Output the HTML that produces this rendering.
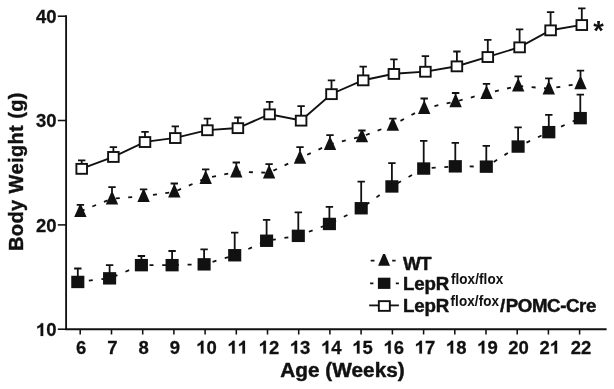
<!DOCTYPE html><html><head><meta charset="utf-8"><title>chart</title>
<style>html,body{margin:0;padding:0;background:#fff;}svg{display:block;will-change:transform;}text{font-family:"Liberation Sans",sans-serif;font-weight:bold;fill:#111;}</style>
</head><body>
<svg width="614" height="389" viewBox="0 0 614 389">
<rect width="614" height="389" fill="#fff"/>
<g stroke="#111" stroke-width="1.85" fill="none" stroke-linecap="butt">
<path d="M66.1 15.3 V330.1"/>
<path d="M65.2 329.2 H606.6"/>
<path d="M57.8 329.2 H66.1" stroke-width="1.55"/>
<path d="M57.8 224.9 H66.1" stroke-width="1.55"/>
<path d="M57.8 120.5 H66.1" stroke-width="1.55"/>
<path d="M57.8 16.2 H66.1" stroke-width="1.55"/>
<path d="M80.2 329.2 V334.5" stroke-width="1.55"/>
<path d="M111.5 329.2 V334.5" stroke-width="1.55"/>
<path d="M142.7 329.2 V334.5" stroke-width="1.55"/>
<path d="M173.9 329.2 V334.5" stroke-width="1.55"/>
<path d="M205.1 329.2 V334.5" stroke-width="1.55"/>
<path d="M236.3 329.2 V334.5" stroke-width="1.55"/>
<path d="M267.5 329.2 V334.5" stroke-width="1.55"/>
<path d="M298.7 329.2 V334.5" stroke-width="1.55"/>
<path d="M329.9 329.2 V334.5" stroke-width="1.55"/>
<path d="M361.1 329.2 V334.5" stroke-width="1.55"/>
<path d="M392.4 329.2 V334.5" stroke-width="1.55"/>
<path d="M423.6 329.2 V334.5" stroke-width="1.55"/>
<path d="M454.8 329.2 V334.5" stroke-width="1.55"/>
<path d="M486.0 329.2 V334.5" stroke-width="1.55"/>
<path d="M517.2 329.2 V334.5" stroke-width="1.55"/>
<path d="M548.4 329.2 V334.5" stroke-width="1.55"/>
<path d="M579.6 329.2 V334.5" stroke-width="1.55"/>
</g>
<g transform="translate(35.91 335.9) scale(1.04 1)"><path transform="translate(0.00 0) scale(0.01780)" d="M393 0H254V-517Q178 -446 75 -412V-536Q129 -554 193 -603Q257 -652 281 -716H393Z" fill="#111" stroke="#111" stroke-width="12"/><text x="9.90" y="0" font-size="17.8" stroke="#111" stroke-width="0.25">0</text></g>
<g transform="translate(35.91 231.6) scale(1.04 1)"><text x="0.00" y="0" font-size="17.8" stroke="#111" stroke-width="0.25">2</text><text x="9.90" y="0" font-size="17.8" stroke="#111" stroke-width="0.25">0</text></g>
<g transform="translate(35.91 127.2) scale(1.04 1)"><text x="0.00" y="0" font-size="17.8" stroke="#111" stroke-width="0.25">3</text><text x="9.90" y="0" font-size="17.8" stroke="#111" stroke-width="0.25">0</text></g>
<g transform="translate(35.91 22.9) scale(1.04 1)"><text x="0.00" y="0" font-size="17.8" stroke="#111" stroke-width="0.25">4</text><text x="9.90" y="0" font-size="17.8" stroke="#111" stroke-width="0.25">0</text></g>
<g transform="translate(76.10 353.6) scale(1.04 1)"><text x="0.00" y="0" font-size="17.8" stroke="#111" stroke-width="0.25">6</text></g>
<g transform="translate(107.31 353.6) scale(1.04 1)"><text x="0.00" y="0" font-size="17.8" stroke="#111" stroke-width="0.25">7</text></g>
<g transform="translate(138.52 353.6) scale(1.04 1)"><text x="0.00" y="0" font-size="17.8" stroke="#111" stroke-width="0.25">8</text></g>
<g transform="translate(169.73 353.6) scale(1.04 1)"><text x="0.00" y="0" font-size="17.8" stroke="#111" stroke-width="0.25">9</text></g>
<g transform="translate(196.20 353.6) scale(1.04 1)"><path transform="translate(0.00 0) scale(0.01780)" d="M393 0H254V-517Q178 -446 75 -412V-536Q129 -554 193 -603Q257 -652 281 -716H393Z" fill="#111" stroke="#111" stroke-width="12"/><text x="9.90" y="0" font-size="17.8" stroke="#111" stroke-width="0.25">0</text></g>
<g transform="translate(227.41 353.6) scale(1.04 1)"><path transform="translate(0.00 0) scale(0.01780)" d="M393 0H254V-517Q178 -446 75 -412V-536Q129 -554 193 -603Q257 -652 281 -716H393Z" fill="#111" stroke="#111" stroke-width="12"/><path transform="translate(9.90 0) scale(0.01780)" d="M393 0H254V-517Q178 -446 75 -412V-536Q129 -554 193 -603Q257 -652 281 -716H393Z" fill="#111" stroke="#111" stroke-width="12"/></g>
<g transform="translate(258.62 353.6) scale(1.04 1)"><path transform="translate(0.00 0) scale(0.01780)" d="M393 0H254V-517Q178 -446 75 -412V-536Q129 -554 193 -603Q257 -652 281 -716H393Z" fill="#111" stroke="#111" stroke-width="12"/><text x="9.90" y="0" font-size="17.8" stroke="#111" stroke-width="0.25">2</text></g>
<g transform="translate(289.83 353.6) scale(1.04 1)"><path transform="translate(0.00 0) scale(0.01780)" d="M393 0H254V-517Q178 -446 75 -412V-536Q129 -554 193 -603Q257 -652 281 -716H393Z" fill="#111" stroke="#111" stroke-width="12"/><text x="9.90" y="0" font-size="17.8" stroke="#111" stroke-width="0.25">3</text></g>
<g transform="translate(321.04 353.6) scale(1.04 1)"><path transform="translate(0.00 0) scale(0.01780)" d="M393 0H254V-517Q178 -446 75 -412V-536Q129 -554 193 -603Q257 -652 281 -716H393Z" fill="#111" stroke="#111" stroke-width="12"/><text x="9.90" y="0" font-size="17.8" stroke="#111" stroke-width="0.25">4</text></g>
<g transform="translate(352.25 353.6) scale(1.04 1)"><path transform="translate(0.00 0) scale(0.01780)" d="M393 0H254V-517Q178 -446 75 -412V-536Q129 -554 193 -603Q257 -652 281 -716H393Z" fill="#111" stroke="#111" stroke-width="12"/><text x="9.90" y="0" font-size="17.8" stroke="#111" stroke-width="0.25">5</text></g>
<g transform="translate(383.46 353.6) scale(1.04 1)"><path transform="translate(0.00 0) scale(0.01780)" d="M393 0H254V-517Q178 -446 75 -412V-536Q129 -554 193 -603Q257 -652 281 -716H393Z" fill="#111" stroke="#111" stroke-width="12"/><text x="9.90" y="0" font-size="17.8" stroke="#111" stroke-width="0.25">6</text></g>
<g transform="translate(414.67 353.6) scale(1.04 1)"><path transform="translate(0.00 0) scale(0.01780)" d="M393 0H254V-517Q178 -446 75 -412V-536Q129 -554 193 -603Q257 -652 281 -716H393Z" fill="#111" stroke="#111" stroke-width="12"/><text x="9.90" y="0" font-size="17.8" stroke="#111" stroke-width="0.25">7</text></g>
<g transform="translate(445.88 353.6) scale(1.04 1)"><path transform="translate(0.00 0) scale(0.01780)" d="M393 0H254V-517Q178 -446 75 -412V-536Q129 -554 193 -603Q257 -652 281 -716H393Z" fill="#111" stroke="#111" stroke-width="12"/><text x="9.90" y="0" font-size="17.8" stroke="#111" stroke-width="0.25">8</text></g>
<g transform="translate(477.09 353.6) scale(1.04 1)"><path transform="translate(0.00 0) scale(0.01780)" d="M393 0H254V-517Q178 -446 75 -412V-536Q129 -554 193 -603Q257 -652 281 -716H393Z" fill="#111" stroke="#111" stroke-width="12"/><text x="9.90" y="0" font-size="17.8" stroke="#111" stroke-width="0.25">9</text></g>
<g transform="translate(508.30 353.6) scale(1.04 1)"><text x="0.00" y="0" font-size="17.8" stroke="#111" stroke-width="0.25">2</text><text x="9.90" y="0" font-size="17.8" stroke="#111" stroke-width="0.25">0</text></g>
<g transform="translate(539.51 353.6) scale(1.04 1)"><text x="0.00" y="0" font-size="17.8" stroke="#111" stroke-width="0.25">2</text><path transform="translate(9.90 0) scale(0.01780)" d="M393 0H254V-517Q178 -446 75 -412V-536Q129 -554 193 -603Q257 -652 281 -716H393Z" fill="#111" stroke="#111" stroke-width="12"/></g>
<g transform="translate(570.72 353.6) scale(1.04 1)"><text x="0.00" y="0" font-size="17.8" stroke="#111" stroke-width="0.25">2</text><text x="9.90" y="0" font-size="17.8" stroke="#111" stroke-width="0.25">2</text></g>
<g transform="translate(280.2 376.7) scale(1.06 1)"><text font-size="19.6" textLength="117.55" lengthAdjust="spacing" stroke="#111" stroke-width="0.45">Age (Weeks)</text></g>
<g transform="translate(23.0 251.0) rotate(-90)"><text font-size="20" textLength="158.5" lengthAdjust="spacing" stroke="#111" stroke-width="0.4">Body Weight (g)</text></g>
<polyline points="77.8,281.9 109.6,278.3 141.4,265.1 172.1,265.1 204.1,264.3 234.7,255.2 266.6,240.7 298.3,235.8 329.4,223.9 361.2,208.2 391.9,186.4 423.7,168.5 455.3,166.3 486.3,166.6 518.1,146.5 548.8,132.1 580.3,118.1" fill="none" stroke="#111" stroke-width="1.8" stroke-dasharray="4 8.69" stroke-dashoffset="1.6"/>
<path d="M77.8 281.9 V268.5 M74.1 268.5 H81.5" stroke="#111" stroke-width="1.8" fill="none"/>
<path d="M109.6 278.3 V265.1 M105.9 265.1 H113.3" stroke="#111" stroke-width="1.8" fill="none"/>
<path d="M141.4 265.1 V256.0 M137.7 256.0 H145.1" stroke="#111" stroke-width="1.8" fill="none"/>
<path d="M172.1 265.1 V251.0 M168.4 251.0 H175.8" stroke="#111" stroke-width="1.8" fill="none"/>
<path d="M204.1 264.3 V249.4 M200.4 249.4 H207.8" stroke="#111" stroke-width="1.8" fill="none"/>
<path d="M234.7 255.2 V232.7 M231.0 232.7 H238.4" stroke="#111" stroke-width="1.8" fill="none"/>
<path d="M266.6 240.7 V219.8 M262.9 219.8 H270.3" stroke="#111" stroke-width="1.8" fill="none"/>
<path d="M298.3 235.8 V212.4 M294.6 212.4 H302.0" stroke="#111" stroke-width="1.8" fill="none"/>
<path d="M329.4 223.9 V206.8 M325.7 206.8 H333.1" stroke="#111" stroke-width="1.8" fill="none"/>
<path d="M361.2 208.2 V181.6 M357.5 181.6 H364.9" stroke="#111" stroke-width="1.8" fill="none"/>
<path d="M391.9 186.4 V163.1 M388.2 163.1 H395.6" stroke="#111" stroke-width="1.8" fill="none"/>
<path d="M423.7 168.5 V140.8 M420.0 140.8 H427.4" stroke="#111" stroke-width="1.8" fill="none"/>
<path d="M455.3 166.3 V142.8 M451.6 142.8 H459.0" stroke="#111" stroke-width="1.8" fill="none"/>
<path d="M486.3 166.6 V145.8 M482.6 145.8 H490.0" stroke="#111" stroke-width="1.8" fill="none"/>
<path d="M518.1 146.5 V127.4 M514.4 127.4 H521.8" stroke="#111" stroke-width="1.8" fill="none"/>
<path d="M548.8 132.1 V114.8 M545.1 114.8 H552.5" stroke="#111" stroke-width="1.8" fill="none"/>
<path d="M580.3 118.1 V94.7 M576.6 94.7 H584.0" stroke="#111" stroke-width="1.8" fill="none"/>
<rect x="71.25" y="275.75" width="13.1" height="12.4" fill="#111"/>
<rect x="103.05" y="272.15" width="13.1" height="12.4" fill="#111"/>
<rect x="134.85" y="258.95" width="13.1" height="12.4" fill="#111"/>
<rect x="165.55" y="258.95" width="13.1" height="12.4" fill="#111"/>
<rect x="197.55" y="258.15" width="13.1" height="12.4" fill="#111"/>
<rect x="228.15" y="249.05" width="13.1" height="12.4" fill="#111"/>
<rect x="260.05" y="234.55" width="13.1" height="12.4" fill="#111"/>
<rect x="291.75" y="229.65" width="13.1" height="12.4" fill="#111"/>
<rect x="322.85" y="217.75" width="13.1" height="12.4" fill="#111"/>
<rect x="354.65" y="202.05" width="13.1" height="12.4" fill="#111"/>
<rect x="385.35" y="180.25" width="13.1" height="12.4" fill="#111"/>
<rect x="417.15" y="162.35" width="13.1" height="12.4" fill="#111"/>
<rect x="448.75" y="160.15" width="13.1" height="12.4" fill="#111"/>
<rect x="479.75" y="160.45" width="13.1" height="12.4" fill="#111"/>
<rect x="511.55" y="140.35" width="13.1" height="12.4" fill="#111"/>
<rect x="542.25" y="125.95" width="13.1" height="12.4" fill="#111"/>
<rect x="573.75" y="111.95" width="13.1" height="12.4" fill="#111"/>
<polyline points="80.4,211.2 112,198.7 143.6,196.2 174.3,191.8 205.7,178.3 236.3,171.8 269.1,172.7 300,158.0 330,144.3 361.9,136.5 392.8,125.0 424.2,108.2 455.6,101.6 486.5,93.3 518.2,85.9 548.8,88.7 580.5,83.5" fill="none" stroke="#111" stroke-width="1.8" stroke-dasharray="4 8.455" stroke-dashoffset="-0.4"/>
<path d="M80.4 211.2 V204.8 M76.7 204.8 H84.1" stroke="#111" stroke-width="1.8" fill="none"/>
<path d="M112 198.7 V187.2 M108.3 187.2 H115.7" stroke="#111" stroke-width="1.8" fill="none"/>
<path d="M143.6 196.2 V189.3 M139.9 189.3 H147.3" stroke="#111" stroke-width="1.8" fill="none"/>
<path d="M174.3 191.8 V183.5 M170.6 183.5 H178.0" stroke="#111" stroke-width="1.8" fill="none"/>
<path d="M205.7 178.3 V169.4 M202.0 169.4 H209.4" stroke="#111" stroke-width="1.8" fill="none"/>
<path d="M236.3 171.8 V162.5 M232.6 162.5 H240.0" stroke="#111" stroke-width="1.8" fill="none"/>
<path d="M269.1 172.7 V164.1 M265.4 164.1 H272.8" stroke="#111" stroke-width="1.8" fill="none"/>
<path d="M300 158.0 V147.2 M296.3 147.2 H303.7" stroke="#111" stroke-width="1.8" fill="none"/>
<path d="M330 144.3 V135.1 M326.3 135.1 H333.7" stroke="#111" stroke-width="1.8" fill="none"/>
<path d="M361.9 136.5 V130.5 M358.2 130.5 H365.6" stroke="#111" stroke-width="1.8" fill="none"/>
<path d="M392.8 125.0 V118.7 M389.1 118.7 H396.5" stroke="#111" stroke-width="1.8" fill="none"/>
<path d="M424.2 108.2 V98.5 M420.5 98.5 H427.9" stroke="#111" stroke-width="1.8" fill="none"/>
<path d="M455.6 101.6 V93.0 M451.9 93.0 H459.3" stroke="#111" stroke-width="1.8" fill="none"/>
<path d="M486.5 93.3 V83.9 M482.8 83.9 H490.2" stroke="#111" stroke-width="1.8" fill="none"/>
<path d="M518.2 85.9 V76.4 M514.5 76.4 H521.9" stroke="#111" stroke-width="1.8" fill="none"/>
<path d="M548.8 88.7 V78.4 M545.1 78.4 H552.5" stroke="#111" stroke-width="1.8" fill="none"/>
<path d="M580.5 83.5 V70.7 M576.8 70.7 H584.2" stroke="#111" stroke-width="1.8" fill="none"/>
<path d="M79.4 205.2 H81.4 L86.6 216.9 H74.2 Z" fill="#111"/>
<path d="M111.0 192.7 H113.0 L118.2 204.4 H105.8 Z" fill="#111"/>
<path d="M142.6 190.2 H144.6 L149.8 201.9 H137.4 Z" fill="#111"/>
<path d="M173.3 185.8 H175.3 L180.5 197.5 H168.1 Z" fill="#111"/>
<path d="M204.7 172.3 H206.7 L211.9 184.0 H199.5 Z" fill="#111"/>
<path d="M235.3 165.8 H237.3 L242.5 177.5 H230.1 Z" fill="#111"/>
<path d="M268.1 166.7 H270.1 L275.3 178.4 H262.9 Z" fill="#111"/>
<path d="M299.0 152.0 H301.0 L306.2 163.7 H293.8 Z" fill="#111"/>
<path d="M329.0 138.3 H331.0 L336.2 150.0 H323.8 Z" fill="#111"/>
<path d="M360.9 130.5 H362.9 L368.1 142.2 H355.7 Z" fill="#111"/>
<path d="M391.8 119.0 H393.8 L399.0 130.7 H386.6 Z" fill="#111"/>
<path d="M423.2 102.2 H425.2 L430.4 113.9 H418.0 Z" fill="#111"/>
<path d="M454.6 95.6 H456.6 L461.8 107.3 H449.4 Z" fill="#111"/>
<path d="M485.5 87.3 H487.5 L492.7 99.0 H480.3 Z" fill="#111"/>
<path d="M517.2 79.9 H519.2 L524.4 91.6 H512.0 Z" fill="#111"/>
<path d="M547.8 82.7 H549.8 L555.0 94.4 H542.6 Z" fill="#111"/>
<path d="M579.5 77.5 H581.5 L586.7 89.2 H574.3 Z" fill="#111"/>
<polyline points="81.7,168.7 113.4,156.8 145,141.9 175.3,137.9 207.4,130.1 237.9,128 269.6,114.2 301.1,120.5 331.5,94 363.2,80.2 393.9,73.8 425.4,71.6 456.9,66.2 487.8,56.9 519.6,47.2 550.6,30.2 581.8,24.9" fill="none" stroke="#111" stroke-width="1.9"/>
<path d="M81.7 168.7 V160.3 M78.0 160.3 H85.4" stroke="#111" stroke-width="1.8" fill="none"/>
<path d="M113.4 156.8 V147.2 M109.7 147.2 H117.1" stroke="#111" stroke-width="1.8" fill="none"/>
<path d="M145 141.9 V131.8 M141.3 131.8 H148.7" stroke="#111" stroke-width="1.8" fill="none"/>
<path d="M175.3 137.9 V126.3 M171.6 126.3 H179.0" stroke="#111" stroke-width="1.8" fill="none"/>
<path d="M207.4 130.1 V118.7 M203.7 118.7 H211.1" stroke="#111" stroke-width="1.8" fill="none"/>
<path d="M237.9 128 V117.5 M234.2 117.5 H241.6" stroke="#111" stroke-width="1.8" fill="none"/>
<path d="M269.6 114.2 V101.8 M265.9 101.8 H273.3" stroke="#111" stroke-width="1.8" fill="none"/>
<path d="M301.1 120.5 V106.1 M297.4 106.1 H304.8" stroke="#111" stroke-width="1.8" fill="none"/>
<path d="M331.5 94 V80.4 M327.8 80.4 H335.2" stroke="#111" stroke-width="1.8" fill="none"/>
<path d="M363.2 80.2 V66.6 M359.5 66.6 H366.9" stroke="#111" stroke-width="1.8" fill="none"/>
<path d="M393.9 73.8 V59.3 M390.2 59.3 H397.6" stroke="#111" stroke-width="1.8" fill="none"/>
<path d="M425.4 71.6 V56.1 M421.7 56.1 H429.1" stroke="#111" stroke-width="1.8" fill="none"/>
<path d="M456.9 66.2 V51.5 M453.2 51.5 H460.6" stroke="#111" stroke-width="1.8" fill="none"/>
<path d="M487.8 56.9 V39.8 M484.1 39.8 H491.5" stroke="#111" stroke-width="1.8" fill="none"/>
<path d="M519.6 47.2 V29.3 M515.9 29.3 H523.3" stroke="#111" stroke-width="1.8" fill="none"/>
<path d="M550.6 30.2 V12.1 M546.9 12.1 H554.3" stroke="#111" stroke-width="1.8" fill="none"/>
<path d="M581.8 24.9 V8.4 M578.1 8.4 H585.5" stroke="#111" stroke-width="1.8" fill="none"/>
<rect x="76.4" y="163.9" width="10.6" height="9.9" fill="#fff" stroke="#111" stroke-width="1.9"/>
<rect x="108.1" y="152.0" width="10.6" height="9.9" fill="#fff" stroke="#111" stroke-width="1.9"/>
<rect x="139.7" y="137.1" width="10.6" height="9.9" fill="#fff" stroke="#111" stroke-width="1.9"/>
<rect x="170.0" y="133.1" width="10.6" height="9.9" fill="#fff" stroke="#111" stroke-width="1.9"/>
<rect x="202.1" y="125.3" width="10.6" height="9.9" fill="#fff" stroke="#111" stroke-width="1.9"/>
<rect x="232.6" y="123.2" width="10.6" height="9.9" fill="#fff" stroke="#111" stroke-width="1.9"/>
<rect x="264.3" y="109.4" width="10.6" height="9.9" fill="#fff" stroke="#111" stroke-width="1.9"/>
<rect x="295.8" y="115.7" width="10.6" height="9.9" fill="#fff" stroke="#111" stroke-width="1.9"/>
<rect x="326.2" y="89.2" width="10.6" height="9.9" fill="#fff" stroke="#111" stroke-width="1.9"/>
<rect x="357.9" y="75.4" width="10.6" height="9.9" fill="#fff" stroke="#111" stroke-width="1.9"/>
<rect x="388.6" y="69.0" width="10.6" height="9.9" fill="#fff" stroke="#111" stroke-width="1.9"/>
<rect x="420.1" y="66.8" width="10.6" height="9.9" fill="#fff" stroke="#111" stroke-width="1.9"/>
<rect x="451.6" y="61.4" width="10.6" height="9.9" fill="#fff" stroke="#111" stroke-width="1.9"/>
<rect x="482.5" y="52.1" width="10.6" height="9.9" fill="#fff" stroke="#111" stroke-width="1.9"/>
<rect x="514.3" y="42.4" width="10.6" height="9.9" fill="#fff" stroke="#111" stroke-width="1.9"/>
<rect x="545.3" y="25.4" width="10.6" height="9.9" fill="#fff" stroke="#111" stroke-width="1.9"/>
<rect x="576.5" y="20.1" width="10.6" height="9.9" fill="#fff" stroke="#111" stroke-width="1.9"/>
<text x="598.6" y="40.1" font-size="27" text-anchor="middle">*</text>
<path d="M370.7 260.7 H374.5 M392.2 260.7 H395.6" stroke="#111" stroke-width="1.7"/>
<path d="M383.1 254.1 H385.0 L390.0 265.7 H378.1 Z" fill="#111"/>
<g transform="translate(402.9 270.4) scale(1.06 1)"><text font-size="17.8" textLength="26.98" lengthAdjust="spacing" stroke="#111" stroke-width="0.45">WT</text></g>
<path d="M370.1 283.3 H373.4 M395.8 283.3 H398.9" stroke="#111" stroke-width="1.7"/>
<rect x="377.9" y="277.7" width="12.5" height="11.2" fill="#111"/>
<g transform="translate(403.0 289.7) scale(1.055 1)"><text font-size="17.7" textLength="43.79" lengthAdjust="spacing" stroke="#111" stroke-width="0.45">LepR</text></g>
<g transform="translate(450.9 284.1) scale(0.97 1)"><text font-size="13.9" textLength="54.02" lengthAdjust="spacing" stroke="#111" stroke-width="0.05">flox/flox</text></g>
<path d="M369.2 305.4 H398.9" stroke="#111" stroke-width="1.8"/>
<rect x="378.85" y="301.15" width="11.0" height="9.7" fill="#fff" stroke="#111" stroke-width="1.9"/>
<g transform="translate(403.0 311.5) scale(1.055 1)"><text font-size="17.7" textLength="43.79" lengthAdjust="spacing" stroke="#111" stroke-width="0.45">LepR</text></g>
<g transform="translate(450.5 306.0) scale(0.97 1)"><text font-size="13.9" textLength="50.10" lengthAdjust="spacing" stroke="#111" stroke-width="0.05">flox/fox</text></g>
<g transform="translate(499.9 311.5) scale(1.055 1)"><text font-size="17.7" textLength="4.93" lengthAdjust="spacing" stroke="#111" stroke-width="0.45">/</text></g>
<g transform="translate(505.7 311.5) scale(1.055 1)"><text font-size="17.7" textLength="85.88" lengthAdjust="spacing" stroke="#111" stroke-width="0.45">POMC-Cre</text></g>
</svg></body></html>
